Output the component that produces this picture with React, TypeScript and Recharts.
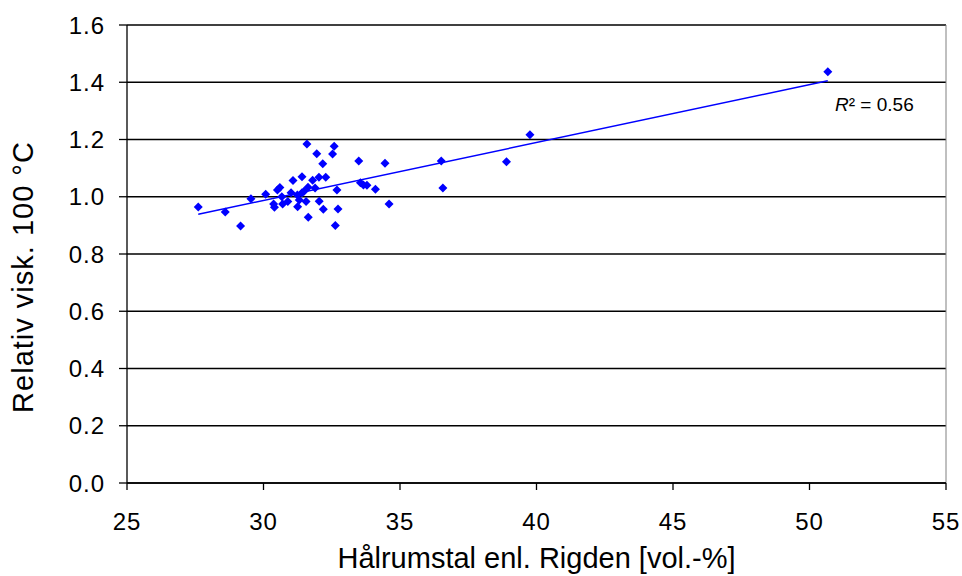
import { ScatterChart, Scatter, XAxis, YAxis, CartesianGrid, ReferenceLine } from 'recharts';

const voids = [
  27.61, 28.6, 29.16, 29.54, 30.08, 30.37, 30.4, 30.51, 30.6, 30.67, 30.7, 30.89, 31.01, 31.08,
  31.24, 31.25, 31.31, 31.41, 31.41, 31.48, 31.56, 31.59, 31.63, 31.64, 31.8, 31.89, 31.95,
  32.03, 32.04, 32.17, 32.19, 32.28, 32.53, 32.59, 32.63, 32.69, 32.73, 33.49, 33.55, 33.66,
  33.79, 34.1, 34.45, 34.6, 36.51, 36.57, 38.9, 39.76, 50.67,
];
const viscosity = [
  0.964, 0.947, 0.898, 0.993, 1.009, 0.975, 0.963, 1.024, 1.032, 1.0, 0.975, 0.983, 1.014, 1.057,
  1.006, 0.965, 0.989, 1.07, 1.014, 1.018, 0.983, 1.184, 1.033, 0.928, 1.058, 1.031, 1.15,
  1.068, 0.984, 1.115, 0.956, 1.068, 1.149, 1.176, 0.9, 1.024, 0.957, 1.125, 1.049, 1.041,
  1.04, 1.026, 1.117, 0.975, 1.125, 1.031, 1.122, 1.217, 1.437,
];

// trend line end points
const trendX = [27.61, 50.67];
const trendY = [0.939, 1.405];

const xTicks = [25, 30, 35, 40, 45, 50, 55];
const yTicks = [0, 0.2, 0.4, 0.6, 0.8, 1.0, 1.2, 1.4, 1.6];

const points = voids.map((x, i) => ({ x, y: viscosity[i] }));
const trend = trendX.map((x, i) => ({ x, y: trendY[i] }));

const FONT = '"Liberation Sans", Arial, sans-serif';
const BLUE = '#0000ff';

const Diamond = (props: any) => {
  const { cx, cy } = props;
  if (cx == null || cy == null) return null;
  const r = 4.5;
  return <polygon points={`${cx},${cy - r} ${cx + r},${cy} ${cx},${cy + r} ${cx - r},${cy}`} fill={BLUE} />;
};

const YLabel = () => (
  <text
    x={23}
    y={277}
    transform="rotate(-90 23 277)"
    textAnchor="middle"
    dominantBaseline="central"
    fontSize={29}
    letterSpacing={1}
    fontFamily={FONT}
    fill="#000"
  >
    Relativ visk. 100 °C
  </text>
);

export default function App() {
  return (
    <div style={{ position: 'absolute', left: 0, top: 0, width: 962, height: 576, fontFamily: FONT }}>
      <ScatterChart width={962} height={576} margin={{ top: 25, right: 16, left: 0, bottom: 0 }}>
        <CartesianGrid vertical={false} stroke="#000" strokeWidth={1.3} />
        <XAxis
          type="number"
          dataKey="x"
          domain={[25, 55]}
          ticks={xTicks}
          height={93}
          tickSize={7}
          tickMargin={23}
          stroke="#000"
          strokeWidth={1.3}
          tick={{ fill: '#000', fontSize: 24, fontFamily: FONT, letterSpacing: 1 }}
          label={{ value: 'Hålrumstal enl. Rigden [vol.-%]', position: 'insideBottom', offset: 8, fill: '#000', fontSize: 29, fontFamily: FONT }}
        />
        <YAxis
          type="number"
          dataKey="y"
          domain={[0, 1.6]}
          ticks={yTicks}
          width={127}
          tickSize={8}
          tickMargin={14}
          stroke="#000"
          strokeWidth={1.3}
          tickFormatter={(v: number) => v.toFixed(1)}
          tick={{ fill: '#000', fontSize: 24, fontFamily: FONT, letterSpacing: 1 }}
          label={{ content: () => <YLabel /> }}
        />
        <ReferenceLine x={55} stroke="#808080" />
        <Scatter data={trend} line={{ stroke: BLUE, strokeWidth: 1.5 }} shape={() => null} isAnimationActive={false} />
        <Scatter data={points} fill={BLUE} shape={Diamond} isAnimationActive={false} />
      </ScatterChart>
      <svg width={962} height={576} style={{ position: 'absolute', left: 0, top: 0, pointerEvents: 'none' }}>
        <text x={835} y={111} fontSize={19} fontFamily={FONT} fill="#000">
          <tspan fontStyle="italic">R</tspan>² = 0.56
        </text>
      </svg>
    </div>
  );
}
